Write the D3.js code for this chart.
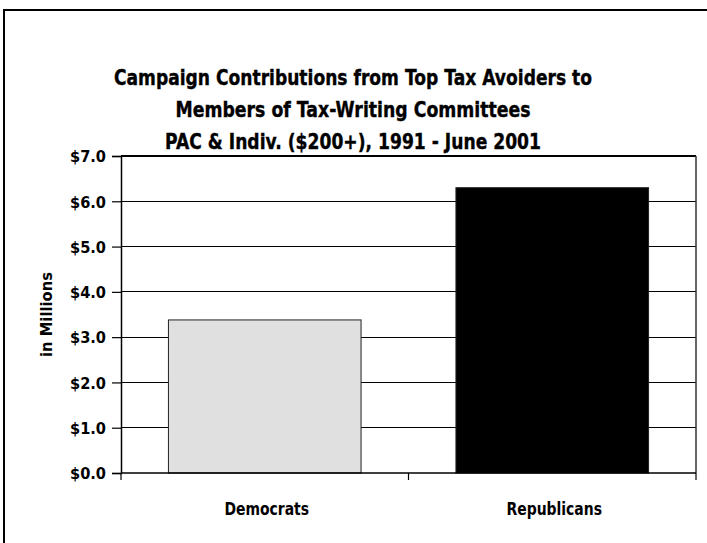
<!DOCTYPE html>
<html><head><meta charset="utf-8">
<script src="https://cdn.jsdelivr.net/npm/d3@7"></script>
<style>
html,body{margin:0;padding:0;background:#fff;}
text{font-family:"DejaVu Sans",sans-serif;font-weight:bold;fill:#000;}
</style></head>
<body>
<svg id="chart" width="707" height="543"></svg>
<script>
const categories = ["Democrats", "Republicans"];
const values = [3.38, 6.30];
const barColors = ["#e0e0e0", "#000000"];
const yTicks = [0, 1, 2, 3, 4, 5, 6, 7];
const titleLines = ["Campaign Contributions from Top Tax Avoiders to", "Members of Tax-Writing Committees", "PAC & Indiv. ($200+), 1991 - June 2001"];
const yAxisTitle = "in Millions";

const svg = d3.select("#chart");
const L = 121, R = 696, T = 156, B = 473;

// squeeze text horizontally to mimic a condensed face
function squeeze(sel, ratio) {
  sel.each(function () {
    const w = this.getComputedTextLength();
    d3.select(this).attr("textLength", w * ratio).attr("lengthAdjust", "spacingAndGlyphs");
  });
}
function fitTo(sel, widthFn) {
  sel.each(function (d, i) {
    d3.select(this).attr("textLength", widthFn(d, i)).attr("lengthAdjust", "spacingAndGlyphs");
  });
}

// outer frame (cropped on right/bottom)
svg.append("rect").attr("x", 4).attr("y", 10).attr("width", 720).attr("height", 560)
  .attr("fill", "none").attr("stroke", "#000").attr("stroke-width", 2);

const x = d3.scaleBand().domain(categories).range([L, R]).paddingInner(0.33).paddingOuter(0.165);
const y = d3.scaleLinear().domain([0, 7]).range([B, T]);

// gridlines
svg.append("g").selectAll("line").data(yTicks.filter(d => d > 0)).join("line")
  .attr("x1", L).attr("x2", R).attr("y1", d => y(d)).attr("y2", d => y(d))
  .attr("stroke", "#000").attr("stroke-width", 1.2).attr("shape-rendering", "crispEdges");
// right border
svg.append("line").attr("x1", R).attr("x2", R).attr("y1", T).attr("y2", B)
  .attr("stroke", "#333").attr("stroke-width", 1.5);

// bars
svg.append("g").selectAll("rect").data(categories).join("rect")
  .attr("x", d => x(d)).attr("width", x.bandwidth())
  .attr("y", (d, i) => y(values[i])).attr("height", (d, i) => B - y(values[i]))
  .attr("fill", (d, i) => barColors[i]).attr("stroke", "#222").attr("stroke-width", 1);

// y axis
const yAxis = d3.axisLeft(y).tickValues(yTicks).tickFormat(d => "$" + d3.format(".1f")(d)).tickSize(9).tickPadding(6);
const gy = svg.append("g").attr("transform", `translate(${L},0)`).call(yAxis);
gy.select(".domain").attr("stroke", "#000").attr("stroke-width", 1.5);
gy.selectAll(".tick line").attr("stroke", "#000").attr("stroke-width", 1.2);
gy.selectAll("text").style("font-size", "16px").attr("dy", "0.36em");
fitTo(gy.selectAll("text"), () => 36);

// x axis with boundary ticks
const gx = svg.append("g").attr("transform", `translate(0,${B})`);
gx.append("line").attr("x1", L).attr("x2", R).attr("stroke", "#000").attr("stroke-width", 1.5);
const boundaries = [L, (L + R) / 2, R];
gx.selectAll("line.bt").data(boundaries).join("line").attr("class", "bt")
  .attr("x1", d => d).attr("x2", d => d).attr("y1", 0).attr("y2", 7)
  .attr("stroke", "#000").attr("stroke-width", 1.2);
const xl = gx.selectAll("text").data(categories).join("text")
  .attr("x", d => x(d) + x.bandwidth() / 2 + 2).attr("y", 42)
  .attr("text-anchor", "middle").style("font-size", "17px").text(d => d);
squeeze(xl, 0.82);

// y axis title
const yt = svg.append("text").attr("transform", `translate(52,${(T + B) / 2}) rotate(-90)`)
  .attr("text-anchor", "middle").style("font-size", "16px").text(yAxisTitle);
fitTo(yt, () => 85);

// title
const tt = svg.append("g").selectAll("text").data(titleLines).join("text")
  .attr("x", 353).attr("y", (d, i) => 85 + i * 32)
  .attr("text-anchor", "middle").style("font-size", "21px")
  .style("stroke", "#000").style("stroke-width", 0.4).text(d => d);
fitTo(tt, (d, i) => [478, 355, 376][i]);
</script>
</body></html>
